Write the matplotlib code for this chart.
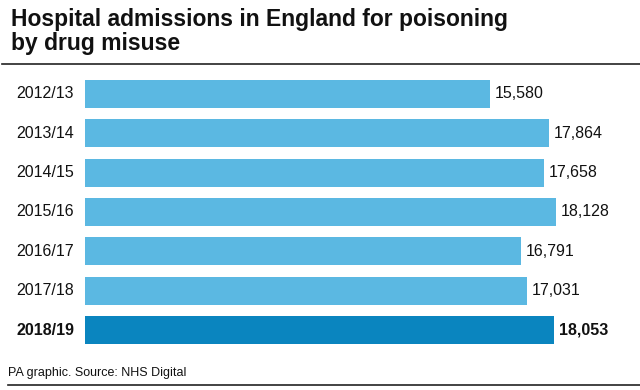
import matplotlib
matplotlib.use('Agg')
from matplotlib import pyplot as plt

years = ['2012/13', '2013/14', '2014/15', '2015/16', '2016/17', '2017/18', '2018/19']
admissions = [15580, 17864, 17658, 18128, 16791, 17031, 18053]

light = '#5bb8e2'
dark = '#0a85bf'
W, H = 640, 390

plt.rcParams['font.family'] = ['Liberation Sans', 'DejaVu Sans']

fig = plt.figure(figsize=(W / 100, H / 100), dpi=100)
ax = fig.add_axes([85 / W, 1 - 350 / H, 555 / W, 276 / H])

colors = [light] * (len(years) - 1) + [dark]
ypos = range(len(years))
ax.barh(ypos, admissions, height=0.71, color=colors)
ax.set_ylim(6.5, -0.5)
ax.set_xlim(0, 555 / 0.02598)

for i, v in enumerate(admissions):
    last = i == len(years) - 1
    ax.text(v + 180, i, f'{v:,}', va='center', ha='left', fontsize=11.5,
            fontweight='bold' if last else 'normal', color='#111111')
    ax.text(-2650, i, years[i], va='center', ha='left', fontsize=11.5,
            fontweight='bold' if last else 'normal', color='#111111')

ax.axis('off')

fig.text(11 / W, 1 - 8 / H, 'Hospital admissions in England for poisoning\nby drug misuse',
         ha='left', va='top', fontsize=16.5, fontweight='bold', color='#111111',
         linespacing=1.05)
fig.add_artist(plt.Line2D([2 / W, 1], [1 - 64 / H] * 2, color='#222222', lw=1.2))
fig.add_artist(plt.Line2D([8 / W, 1], [1 - 385 / H] * 2, color='#222222', lw=1.2))
fig.text(8 / W, 1 - 373 / H, 'PA graphic. Source: NHS Digital', ha='left', va='center',
         fontsize=9, color='#111111')

fig.savefig('out.png', dpi=100)
